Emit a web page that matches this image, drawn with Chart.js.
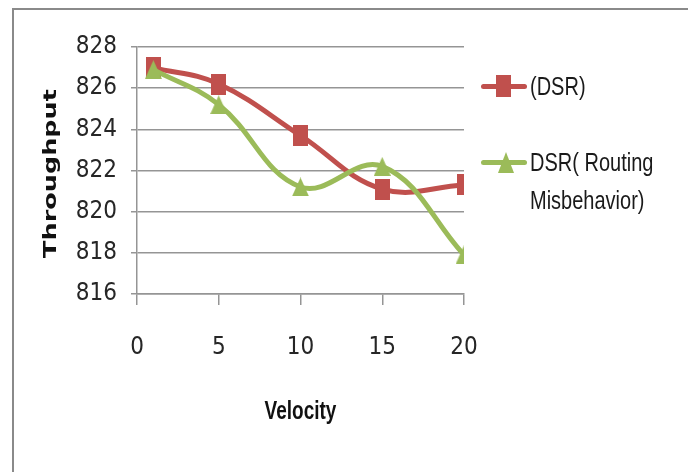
<!DOCTYPE html>
<html>
<head>
<meta charset="utf-8">
<script src="https://cdn.jsdelivr.net/npm/chart.js@4.4.1/dist/chart.umd.min.js"></script>
<style>
  html, body { margin: 0; padding: 0; background: #fff; }
  #wrap { position: relative; width: 688px; height: 472px; overflow: hidden; }
  #frame { position: absolute; left: 12px; top: 8px; width: 700px; height: 500px;
    border-left: 2px solid #8a8a8a; border-top: 2px solid #8a8a8a; pointer-events: none; }
  #legend { position: absolute; left: 481px; top: 68px;
    font-family: 'Liberation Sans', Arial, sans-serif;
    font-size: 20px; line-height: 28.5px; color: #1a1a1a; }
  .item { display: flex; align-items: flex-start; margin-bottom: 39px; }
  .sample { position: relative; width: 46px; height: 37px; flex: none; }
  .sample .ln { position: absolute; left: 0; right: 0; top: 16px; height: 5px; border-radius: 3px; }
  .sample .mk { position: absolute; }
  .txt { margin-left: 3px; white-space: pre-line; transform: scaleY(1.3); transform-origin: 0 0; }
</style>
</head>
<body>
<div id="wrap">
  <canvas id="chart" width="688" height="472"></canvas>
  <div id="frame"></div>
  <div id="legend"></div>
</div>
<script>
// chart data
const velocity = [1, 5, 10, 15, 20];
const dsr = [827.0, 826.2, 823.7, 821.1, 821.3];
const dsrMisbehavior = [826.9, 825.2, 821.2, 822.2, 817.9];
const seriesNames = ["(DSR)", "DSR( Routing\nMisbehavior)"];
const xTicks = [0, 5, 10, 15, 20];
const yTicks = [816, 818, 820, 822, 824, 826, 828];
const xTitle = "Velocity";
const yTitle = "Throughput";

const red = "#C0504D";
const green = "#9BBB59";
const axisGray = "#959595";
const tickFont = "'DejaVu Sans Condensed', 'Liberation Sans', sans-serif";

function rectMarker(w, h, color) {
  const c = document.createElement("canvas");
  c.width = w; c.height = h;
  const g = c.getContext("2d");
  g.fillStyle = color;
  g.fillRect(0, 0, w, h);
  return c;
}

function triMarker(w, h, color) {
  const c = document.createElement("canvas");
  c.width = w; c.height = h;
  const g = c.getContext("2d");
  g.fillStyle = color;
  g.beginPath();
  g.moveTo(w / 2, 0);
  g.lineTo(w, h);
  g.lineTo(0, h);
  g.closePath();
  g.fill();
  return c;
}

function points(xs, ys) {
  return xs.map((x, i) => ({ x: x, y: ys[i] }));
}

// axis titles, stretched like the original picture
const axisTitles = {
  id: "axisTitles",
  afterDraw(chart) {
    const ctx = chart.ctx;
    const a = chart.chartArea;
    ctx.save();
    ctx.fillStyle = "#111";
    ctx.textAlign = "center";
    ctx.textBaseline = "middle";

    ctx.save();
    ctx.translate(52, (a.top + a.bottom) / 2 + 3);
    ctx.rotate(-Math.PI / 2);
    ctx.scale(1.5, 1);
    ctx.font = "bold 17px 'DejaVu Sans'";
    ctx.fillText(yTitle, 0, 0);
    ctx.restore();

    ctx.translate((a.left + a.right) / 2, 412);
    ctx.scale(1, 1.35);
    ctx.font = "bold 19px 'Liberation Sans'";
    ctx.fillText(xTitle, 0, 0);
    ctx.restore();
  }
};

const datasets = [
  {
    label: seriesNames[0],
    data: points(velocity, dsr),
    borderColor: red,
    backgroundColor: red,
    borderWidth: 5,
    tension: 0.4,
    pointStyle: rectMarker(15, 21, red),
    order: 1
  },
  {
    label: seriesNames[1],
    data: points(velocity, dsrMisbehavior),
    borderColor: green,
    backgroundColor: green,
    borderWidth: 5,
    tension: 0.4,
    pointStyle: triMarker(17, 19, green),
    order: 0
  }
];

const chart = new Chart(document.getElementById("chart").getContext("2d"), {
  type: "line",
  data: { datasets },
  options: {
    responsive: false,
    animation: false,
    devicePixelRatio: 1,
    layout: { padding: { left: 0, top: 47, right: 224, bottom: 0 } },
    plugins: { legend: { display: false }, tooltip: { enabled: false } },
    elements: { line: { borderCapStyle: "round", borderJoinStyle: "round" } },
    scales: {
      x: {
        type: "linear",
        min: xTicks[0],
        max: xTicks[xTicks.length - 1],
        afterBuildTicks: s => { s.ticks = xTicks.map(v => ({ value: v })); },
        afterFit: s => { s.height = 178; },
        grid: { drawOnChartArea: false, color: axisGray, lineWidth: 1.5, tickLength: 11 },
        border: { color: axisGray, width: 1.5 },
        ticks: { padding: 28, color: "#262626", font: { family: tickFont, size: 24 } }
      },
      y: {
        min: yTicks[0],
        max: yTicks[yTicks.length - 1],
        afterBuildTicks: s => { s.ticks = yTicks.map(v => ({ value: v })); },
        afterFit: s => { s.width = 137; },
        grid: { color: axisGray, lineWidth: 1.5, tickLength: 6 },
        border: { color: axisGray, width: 1.5 },
        ticks: { padding: 14, color: "#262626", font: { family: tickFont, size: 24 } }
      }
    }
  },
  plugins: [axisTitles]
});

// html legend built from the datasets
const legend = document.getElementById("legend");
chart.data.datasets.forEach((ds, i) => {
  const item = document.createElement("div");
  item.className = "item";
  const sample = document.createElement("div");
  sample.className = "sample";
  const ln = document.createElement("div");
  ln.className = "ln";
  ln.style.background = ds.borderColor;
  const mk = document.createElement("div");
  mk.className = "mk";
  mk.style.background = ds.borderColor;
  if (i === 0) {
    mk.style.cssText += "left:15px;top:7px;width:15px;height:22px;";
  } else {
    mk.style.cssText += "left:17px;top:8px;width:16px;height:21px;clip-path:polygon(50% 0,100% 100%,0 100%);";
  }
  sample.appendChild(ln);
  sample.appendChild(mk);
  const txt = document.createElement("div");
  txt.className = "txt";
  txt.textContent = ds.label;
  item.appendChild(sample);
  item.appendChild(txt);
  legend.appendChild(item);
});
</script>
</body>
</html>
